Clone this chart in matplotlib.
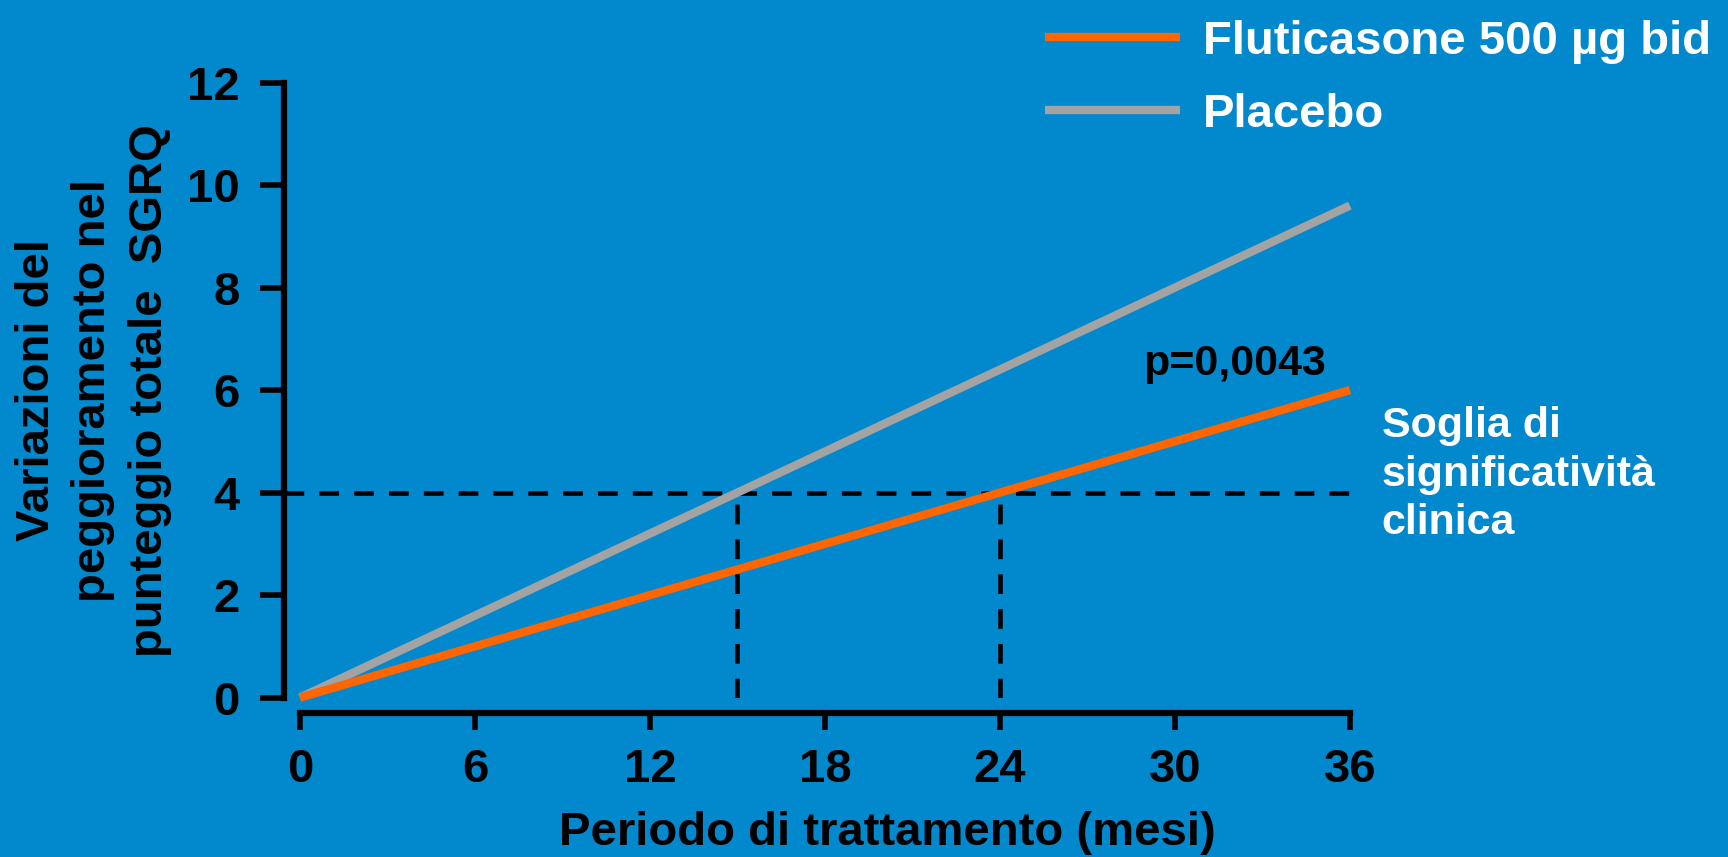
import matplotlib.pyplot as plt
import matplotlib.transforms as mtransforms
import numpy as np

# SGRQ worsening over time, fluticasone vs placebo
months = [0, 36]
fluticasone = [0, 6.0]
placebo = [0, 9.6]
threshold = 4
p_value = "p=0,0043"

x_ticks = [0, 6, 12, 18, 24, 30, 36]
y_ticks = [0, 2, 4, 6, 8, 10, 12]

bg = '#0288cc'
orange = '#ff6600'
grey = '#a3a3a3'

plt.rcParams['font.family'] = ['Liberation Sans', 'DejaVu Sans']
plt.rcParams['font.weight'] = 'bold'

fig = plt.figure(figsize=(17.28, 8.57), dpi=100, facecolor=bg)
ax = fig.add_axes([0.1736, 0.186, 0.6076, 0.7177])
ax.set_facecolor(bg)

ax.plot(months, placebo, color=grey, lw=6, solid_capstyle='butt', clip_on=False,
        label='Placebo', zorder=3)
ax.plot(months, fluticasone, color=orange, lw=6, solid_capstyle='butt', clip_on=False,
        label='Fluticasone 500 µg bid', zorder=4)

# clinical significance threshold and where each arm crosses it
dash = (0, (4.3, 3.3))
ax.axhline(threshold, xmin=-0.0152, xmax=1, color='black', lw=3.3, ls=dash,
           clip_on=False, zorder=2)
for arm in (placebo, fluticasone):
    t_cross = np.interp(threshold, arm, months)
    ax.plot([t_cross, t_cross], [0, threshold], color='black', lw=3.3, ls=dash, zorder=2)

ax.set_xlim(0, 36)
ax.set_ylim(0, 12)

for side in ('top', 'right'):
    ax.spines[side].set_visible(False)
ax.spines['left'].set_position(('outward', 11.5))
ax.spines['bottom'].set_position(('outward', 11))
for side in ('left', 'bottom'):
    ax.spines[side].set_linewidth(4.5)
    ax.spines[side].set_capstyle('projecting')

ax.set_xticks(x_ticks)
ax.set_yticks(y_ticks)
ax.tick_params(axis='y', length=17, width=4, pad=15, labelsize=34)
ax.tick_params(axis='x', length=12, width=4, pad=13, labelsize=34)
for lbl in ax.get_xticklabels() + ax.get_yticklabels():
    lbl.set_fontweight('bold')

ax.set_xlabel('Periodo di trattamento (mesi)', fontsize=34, fontweight='bold')
ax.xaxis.set_label_coords(0.559, -0.185)
ax.set_ylabel('Variazioni del\npeggioramento nel\npunteggio totale  SGRQ',
              fontsize=34, fontweight='bold', labelpad=11, linespacing=1.36)

ax.text(32.05, 6.5, p_value, fontsize=31, fontweight='bold', color='black',
        ha='center', va='center')

trans = mtransforms.blended_transform_factory(ax.transAxes, ax.transData)
ax.annotate('Soglia di\nsignificatività\nclinica', xy=(1, threshold), xycoords=trans,
            xytext=(23, 13), textcoords='offset points', fontsize=31,
            fontweight='bold', color='white', ha='left', va='center',
            linespacing=1.28)

handles, labels = ax.get_legend_handles_labels()
leg = fig.legend(handles[::-1], labels[::-1], loc='upper left',
                 bbox_to_anchor=(0.6047, 0.977), frameon=False, fontsize=34,
                 handlelength=2.86, handletextpad=0.49, labelspacing=0.62,
                 borderpad=0, borderaxespad=0)
for txt in leg.get_texts():
    txt.set_color('white')
    txt.set_fontweight('bold')

fig.savefig('out.png', dpi=100, facecolor=bg)
